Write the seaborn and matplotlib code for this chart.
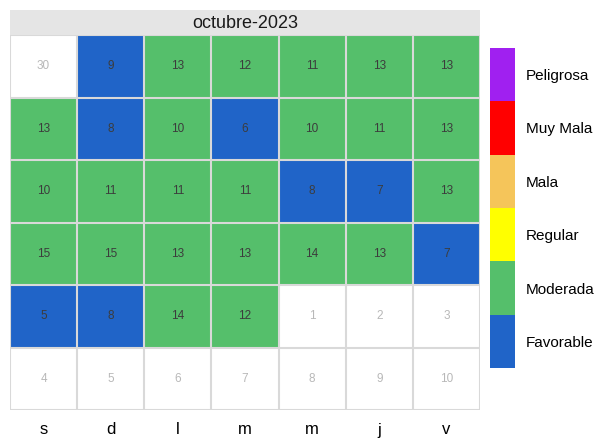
import numpy as np
import pandas as pd
import matplotlib
matplotlib.use("Agg")
import matplotlib.pyplot as plt
import seaborn as sns
from matplotlib.colors import ListedColormap

# calendar data, octubre 2023 (weeks start on saturday)
month_title = "octubre-2023"
weekdays = ["s", "d", "l", "m", "m", "j", "v"]
day_numbers = [
    [30, 1, 2, 3, 4, 5, 6],
    [7, 8, 9, 10, 11, 12, 13],
    [14, 15, 16, 17, 18, 19, 20],
    [21, 22, 23, 24, 25, 26, 27],
    [28, 29, 30, 31, 1, 2, 3],
    [4, 5, 6, 7, 8, 9, 10],
]
values = [
    [np.nan, 9, 13, 12, 11, 13, 13],
    [13, 8, 10, 6, 10, 11, 13],
    [10, 11, 11, 11, 8, 7, 13],
    [15, 15, 13, 13, 14, 13, 7],
    [5, 8, 14, 12, np.nan, np.nan, np.nan],
    [np.nan] * 7,
]
categories = ["Favorable", "Moderada", "Regular", "Mala", "Muy Mala", "Peligrosa"]
cat_colors = ["#2064c8", "#55bf6b", "#ffff00", "#f5c55a", "#ff0000", "#a020f0"]
cat_bins = [-np.inf, 9.5, 25.5, 37.5, 50.5, 75.5, np.inf]

plt.rcParams["font.family"] = ["Liberation Sans", "DejaVu Sans"]

vals = np.array(values, dtype=float)
codes = pd.cut(vals.ravel(), bins=cat_bins, labels=False).reshape(vals.shape)
df = pd.DataFrame(codes, columns=range(7))

fig = plt.figure(figsize=(6.11, 4.41), dpi=100)
ax = fig.add_axes([10 / 611, 31 / 441, 470 / 611, 375 / 441])
cax = fig.add_axes([490 / 611, 73 / 441, 25 / 611, 320 / 441])
hax = fig.add_axes([10 / 611, 406 / 441, 470 / 611, 25 / 441])

cmap = ListedColormap(cat_colors)
sns.heatmap(df, ax=ax, cmap=cmap, vmin=-0.5, vmax=len(categories) - 0.5,
            mask=np.isnan(vals), cbar_ax=cax, linewidths=0,
            xticklabels=weekdays, yticklabels=False)
ax.set_facecolor("white")

grid_c = "#d9d9d9"
ax.hlines(range(7), 0, 7, colors=grid_c, linewidth=1.5)
ax.vlines(range(8), 0, 6, colors=grid_c, linewidth=1.5)
for s in ax.spines.values():
    s.set_visible(False)

for r in range(6):
    for c in range(7):
        if np.isnan(vals[r, c]):
            ax.text(c + 0.5, r + 0.5, str(day_numbers[r][c]), ha="center",
                    va="center", fontsize=8.5, color="#b8b8b8")
        else:
            ax.text(c + 0.5, r + 0.5, f"{vals[r, c]:.0f}", ha="center",
                    va="center", fontsize=8.5, color="#3c3c3c")

ax.tick_params(axis="x", length=0, pad=9, labelsize=12, rotation=0)
ax.set_xlabel("")
ax.set_ylabel("")

# header strip
hax.set_facecolor("#e5e5e5")
hax.set_xticks([])
hax.set_yticks([])
for s in hax.spines.values():
    s.set_visible(False)
hax.text(0.5, 0.45, month_title, ha="center", va="center", fontsize=13,
         color="#1a1a1a", transform=hax.transAxes)

# legend bar
cbar = ax.collections[0].colorbar
cbar.set_ticks(range(len(categories)))
cbar.set_ticklabels(categories)
cbar.ax.tick_params(length=0, labelsize=11, pad=8)
cbar.outline.set_visible(False)

fig.savefig("out.png", dpi=100)
